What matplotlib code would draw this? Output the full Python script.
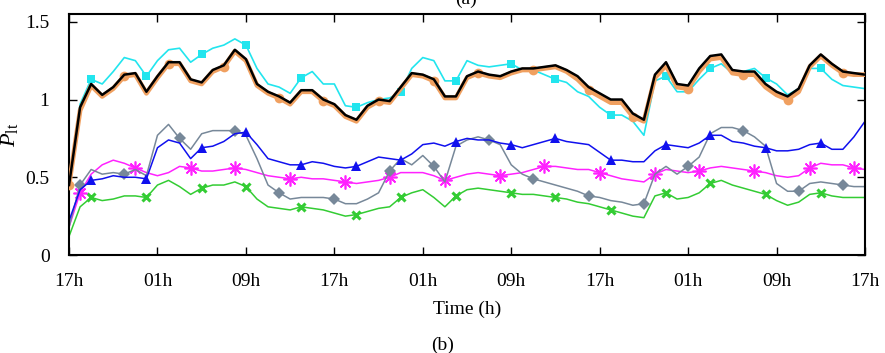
import matplotlib
matplotlib.use('Agg')
import matplotlib.pyplot as plt
import numpy as np

plt.rcParams['font.family'] = ['Liberation Serif', 'DejaVu Serif']
plt.rcParams['mathtext.fontset'] = 'custom'
plt.rcParams['mathtext.rm'] = 'Liberation Serif'
plt.rcParams['mathtext.it'] = 'Liberation Serif:italic'

# hours since 17h of day 1, hourly samples
hours = np.arange(0, 73)
tick_hours = [0, 8, 16, 24, 32, 40, 48, 56, 64, 72]
tick_labels = ['17h', '01h', '09h', '17h', '01h', '09h', '17h', '01h', '09h', '17h']

black = [0.45, 0.95, 1.10, 1.03, 1.08, 1.16, 1.17, 1.05, 1.15, 1.24,
         1.24, 1.13, 1.11, 1.19, 1.22, 1.32, 1.26, 1.10, 1.05, 1.02,
         0.98, 1.06, 1.06, 1.00, 0.97, 0.90, 0.87, 0.96, 1.00, 0.99,
         1.08, 1.17, 1.16, 1.13, 1.02, 1.02, 1.15, 1.18, 1.16, 1.15,
         1.18, 1.20, 1.20, 1.21, 1.22, 1.19, 1.15, 1.08, 1.04, 1.00,
         1.00, 0.91, 0.87, 1.16, 1.24, 1.10, 1.09, 1.20, 1.28, 1.29,
         1.19, 1.18, 1.18, 1.10, 1.05, 1.02, 1.07, 1.22, 1.29, 1.23,
         1.18, 1.17, 1.16]
orange = [0.45, 0.93, 1.09, 1.02, 1.07, 1.15, 1.16, 1.04, 1.14, 1.23,
          1.23, 1.12, 1.10, 1.18, 1.21, 1.31, 1.25, 1.09, 1.04, 1.01,
          0.97, 1.05, 1.05, 0.99, 0.96, 0.89, 0.86, 0.95, 0.99, 0.98,
          1.07, 1.16, 1.15, 1.12, 1.01, 1.01, 1.14, 1.17, 1.15, 1.14,
          1.17, 1.19, 1.19, 1.20, 1.21, 1.18, 1.13, 1.06, 1.02, 0.98,
          0.98, 0.89, 0.86, 1.14, 1.22, 1.08, 1.07, 1.18, 1.26, 1.27,
          1.17, 1.16, 1.16, 1.08, 1.03, 1.00, 1.05, 1.21, 1.28, 1.22,
          1.17, 1.16, 1.16]
cyan = [0.45, 0.97, 1.13, 1.10, 1.18, 1.27, 1.25, 1.15, 1.25, 1.32,
        1.33, 1.24, 1.29, 1.33, 1.35, 1.39, 1.35, 1.20, 1.10, 1.08,
        1.04, 1.14, 1.18, 1.10, 1.10, 0.96, 0.95, 0.98, 1.00, 1.01,
        1.05, 1.20, 1.27, 1.25, 1.12, 1.12, 1.25, 1.22, 1.21, 1.22,
        1.23, 1.19, 1.19, 1.16, 1.13, 1.11, 1.05, 1.02, 0.95, 0.90,
        0.90, 0.86, 0.77, 1.12, 1.15, 1.05, 1.05, 1.13, 1.20, 1.23,
        1.17, 1.18, 1.20, 1.14, 1.10, 1.03, 1.07, 1.20, 1.20, 1.13,
        1.09, 1.08, 1.07]
blue = [0.22, 0.42, 0.48, 0.49, 0.51, 0.50, 0.50, 0.49, 0.69, 0.74,
        0.72, 0.62, 0.69, 0.70, 0.73, 0.78, 0.79, 0.71, 0.62, 0.60,
        0.58, 0.58, 0.60, 0.59, 0.57, 0.56, 0.57, 0.60, 0.63, 0.62,
        0.61, 0.65, 0.71, 0.72, 0.70, 0.73, 0.75, 0.74, 0.74, 0.72,
        0.71, 0.69, 0.71, 0.73, 0.75, 0.73, 0.72, 0.71, 0.66, 0.61,
        0.61, 0.60, 0.60, 0.67, 0.71, 0.70, 0.69, 0.72, 0.77, 0.77,
        0.73, 0.72, 0.70, 0.69, 0.67, 0.67, 0.68, 0.71, 0.72, 0.68,
        0.68, 0.76, 0.86]
gray = [0.18, 0.45, 0.55, 0.52, 0.53, 0.52, 0.55, 0.51, 0.77, 0.84,
        0.75, 0.68, 0.78, 0.80, 0.80, 0.80, 0.77, 0.62, 0.45, 0.40,
        0.36, 0.37, 0.37, 0.37, 0.36, 0.33, 0.33, 0.36, 0.40, 0.54,
        0.62, 0.58, 0.64, 0.57, 0.47, 0.70, 0.74, 0.76, 0.74, 0.71,
        0.58, 0.52, 0.49, 0.47, 0.45, 0.43, 0.41, 0.38, 0.37, 0.35,
        0.34, 0.32, 0.33, 0.52, 0.57, 0.52, 0.57, 0.63, 0.78, 0.82,
        0.82, 0.80, 0.76, 0.70, 0.46, 0.41, 0.41, 0.46, 0.47, 0.46,
        0.45, 0.44, 0.44]
magenta = [0.18, 0.40, 0.52, 0.58, 0.61, 0.59, 0.56, 0.53, 0.51, 0.53,
           0.57, 0.56, 0.54, 0.54, 0.55, 0.56, 0.55, 0.53, 0.51, 0.50,
           0.49, 0.50, 0.49, 0.49, 0.48, 0.47, 0.46, 0.47, 0.48, 0.50,
           0.53, 0.53, 0.53, 0.51, 0.48, 0.50, 0.52, 0.53, 0.52, 0.51,
           0.52, 0.53, 0.55, 0.57, 0.57, 0.56, 0.55, 0.55, 0.53, 0.51,
           0.49, 0.48, 0.47, 0.52, 0.55, 0.54, 0.53, 0.54, 0.56, 0.57,
           0.56, 0.55, 0.54, 0.53, 0.51, 0.50, 0.51, 0.56, 0.59, 0.58,
           0.58, 0.56, 0.55]
green = [0.12, 0.31, 0.37, 0.35, 0.36, 0.38, 0.38, 0.37, 0.45, 0.48,
         0.44, 0.39, 0.43, 0.45, 0.45, 0.47, 0.44, 0.36, 0.31, 0.30,
         0.29, 0.31, 0.30, 0.29, 0.27, 0.25, 0.26, 0.28, 0.30, 0.31,
         0.37, 0.40, 0.42, 0.37, 0.31, 0.38, 0.42, 0.43, 0.42, 0.41,
         0.40, 0.39, 0.39, 0.38, 0.37, 0.36, 0.34, 0.33, 0.31, 0.29,
         0.27, 0.25, 0.24, 0.38, 0.40, 0.36, 0.37, 0.40, 0.46, 0.48,
         0.45, 0.43, 0.41, 0.39, 0.35, 0.32, 0.34, 0.39, 0.40, 0.38,
         0.37, 0.37, 0.37]

# marker positions (indices into hours), every ~4.66 h with per-series offset
def marks(start):
    return [int(round(start + k * 4.66)) for k in range(16) if start + k * 4.66 <= 72.2]

fig = plt.figure(figsize=(8.85, 3.53), dpi=100)
ax = fig.add_axes([0.078, 0.2776, 0.8994, 0.6827])

ax.plot(hours, green, color='#33cc33', lw=1.1, marker='x', ms=6, mew=2.2,
        markevery=marks(2.35))
ax.plot(hours, magenta, color='#ff22ff', lw=1.1, marker=(8, 2, 0), ms=10, mew=1.2,
        markevery=marks(1.27))
ax.plot(hours, gray, color='#778899', lw=1.1, marker='D', ms=6, mew=0,
        markevery=marks(0.55))
ax.plot(hours, blue, color='#1010ee', lw=1.1, marker='^', ms=7.5, mew=0,
        markevery=marks(2.35))
ax.plot(hours, cyan, color='#22e5ee', lw=1.2, marker='s', ms=6, mew=0,
        markevery=marks(2.35))
ax.plot(hours, orange, color='#f0a060', lw=3.4, marker='o', ms=7, mew=0,
        markevery=marks(0.0), zorder=3)
ax.plot(hours, black, color='black', lw=1.8, zorder=4)

ax.set_xlim(0, 72)
ax.set_ylim(0, 1.55)
ax.set_xticks(tick_hours)
ax.set_xticklabels(tick_labels)
ax.set_yticks([0, 0.5, 1, 1.5])
ax.set_yticklabels(['0', '0.5', '1', '1.5'])
ax.tick_params(direction='in', top=True, right=True, length=6, width=1,
               labelsize=14, colors='black')
ax.tick_params(axis='x', pad=13)
ax.tick_params(axis='y', pad=14)
for spine in ax.spines.values():
    spine.set_linewidth(1.5)

ax.set_xlabel('Time (h)', fontsize=14, labelpad=8)
ax.set_ylabel(r'$P_{\mathrm{lt}}$', fontsize=16, labelpad=4)
fig.text(0.5, 0.022, '(b)', ha='center', va='center', fontsize=14)
fig.text(0.527, 1.003, '(a)', ha='center', va='center', fontsize=14)

plt.savefig('out.png', dpi=100)
